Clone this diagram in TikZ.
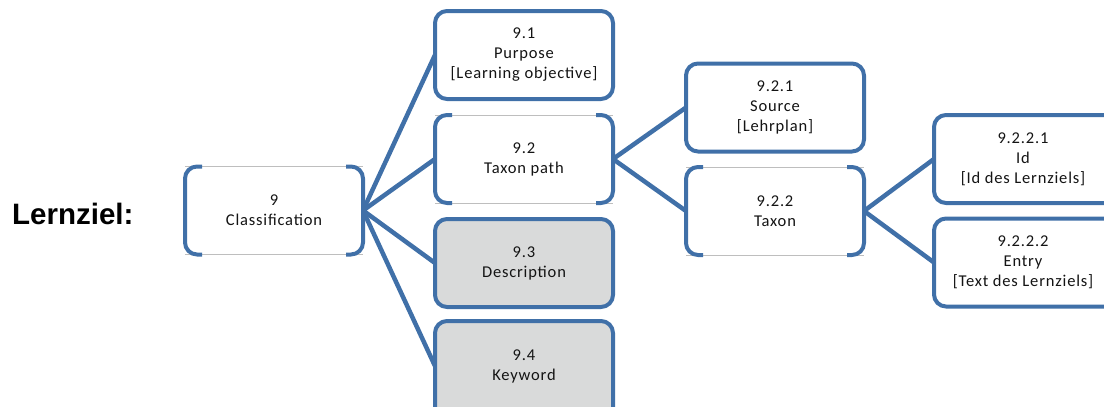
\documentclass[tikz,border=0pt]{standalone}
\usepackage{fontspec}
\setmainfont{Carlito}[LetterSpace=5]
\newfontfamily\arialfont{Liberation Sans}
\usetikzlibrary{backgrounds}
\definecolor{bblue}{RGB}{64,112,168}
\definecolor{bgray}{RGB}{217,218,218}
\definecolor{lgray}{RGB}{190,190,190}
\definecolor{txt}{RGB}{20,20,20}
\tikzset{
  box/.style={rectangle, rounded corners=12pt, line width=4pt, draw=bblue, fill=white,
    minimum width=178pt, minimum height=88pt, inner sep=0pt, outer sep=0pt, align=center,
    text=txt, font=\fontsize{16.5pt}{20pt}\selectfont},
  graybox/.style={box, fill=bgray},
  brbox/.style={box, draw=none, fill=white},
  textonly/.style={inner sep=0pt, align=center, text=txt, font=\fontsize{16.5pt}{20pt}\selectfont},
  conn/.style={line width=4.5pt, draw=bblue},
  brline/.style={line width=4pt, draw=bblue, rounded corners=12pt, line cap=butt},
  thinline/.style={line width=1pt, draw=lgray}
}
\begin{document}
\begin{tikzpicture}[x=1pt,y=-1pt]
\useasboundingbox (0,0) rectangle (1104,407);
\clip (0,0) rectangle (1104,407);
\node[font=\arialfont\bfseries\fontsize{29.5pt}{32pt}\selectfont, text=black, anchor=base west, inner sep=0pt] (lbl) at (12,224) {Lernziel:};
\node[brbox] (c9) at (274,210.5) {9\\Classification};
\node[box] (c91) at (524,55) {9.1\\Purpose\\{[}Learning objective{]}};
\node[brbox] (c92) at (524,159) {9.2\\Taxon path};
\node[graybox] (c93) at (524,263) {9.3\\Description};
\node[graybox, minimum height=110pt, anchor=north] (c94) at (524,321) {};
\node[textonly] (t94) at (524,366) {9.4\\Keyword};
\coordinate (c94w) at (435,366);
\node[box] (c921) at (775,107.5) {9.2.1\\Source\\{[}Lehrplan{]}};
\node[brbox] (c922) at (775,211) {9.2.2\\Taxon};
\node[box, minimum width=210pt, anchor=west] (c9221) at (934,159) {};
\node[textonly] (t9221) at (1023,159) {9.2.2.1\\Id\\{[}Id des Lernziels{]}};
\node[box, minimum width=210pt, anchor=west] (c9222) at (934,262.5) {};
\node[textonly] (t9222) at (1023,262.5) {9.2.2.2\\Entry\\{[}Text des Lernziels{]}};
\foreach \n in {c9,c92,c922} {
  \draw[thinline] (\n.north west) -- (\n.north east) (\n.south west) -- (\n.south east);
  \draw[brline] ([xshift=17pt]\n.north west) -- (\n.north west) -- (\n.south west) -- ([xshift=17pt]\n.south west);
  \draw[brline] ([xshift=-17pt]\n.north east) -- (\n.north east) -- (\n.south east) -- ([xshift=-17pt]\n.south east);
}
\begin{scope}[on background layer]
\foreach \t in {c91,c92,c93} \draw[conn] (c9.east) -- (\t.west);
\draw[conn] (c9.east) -- (c94w);
\foreach \t in {c921,c922} \draw[conn] (c92.east) -- (\t.west);
\foreach \t in {c9221,c9222} \draw[conn] (c922.east) -- (\t.west);
\end{scope}
\end{tikzpicture}
\end{document}
